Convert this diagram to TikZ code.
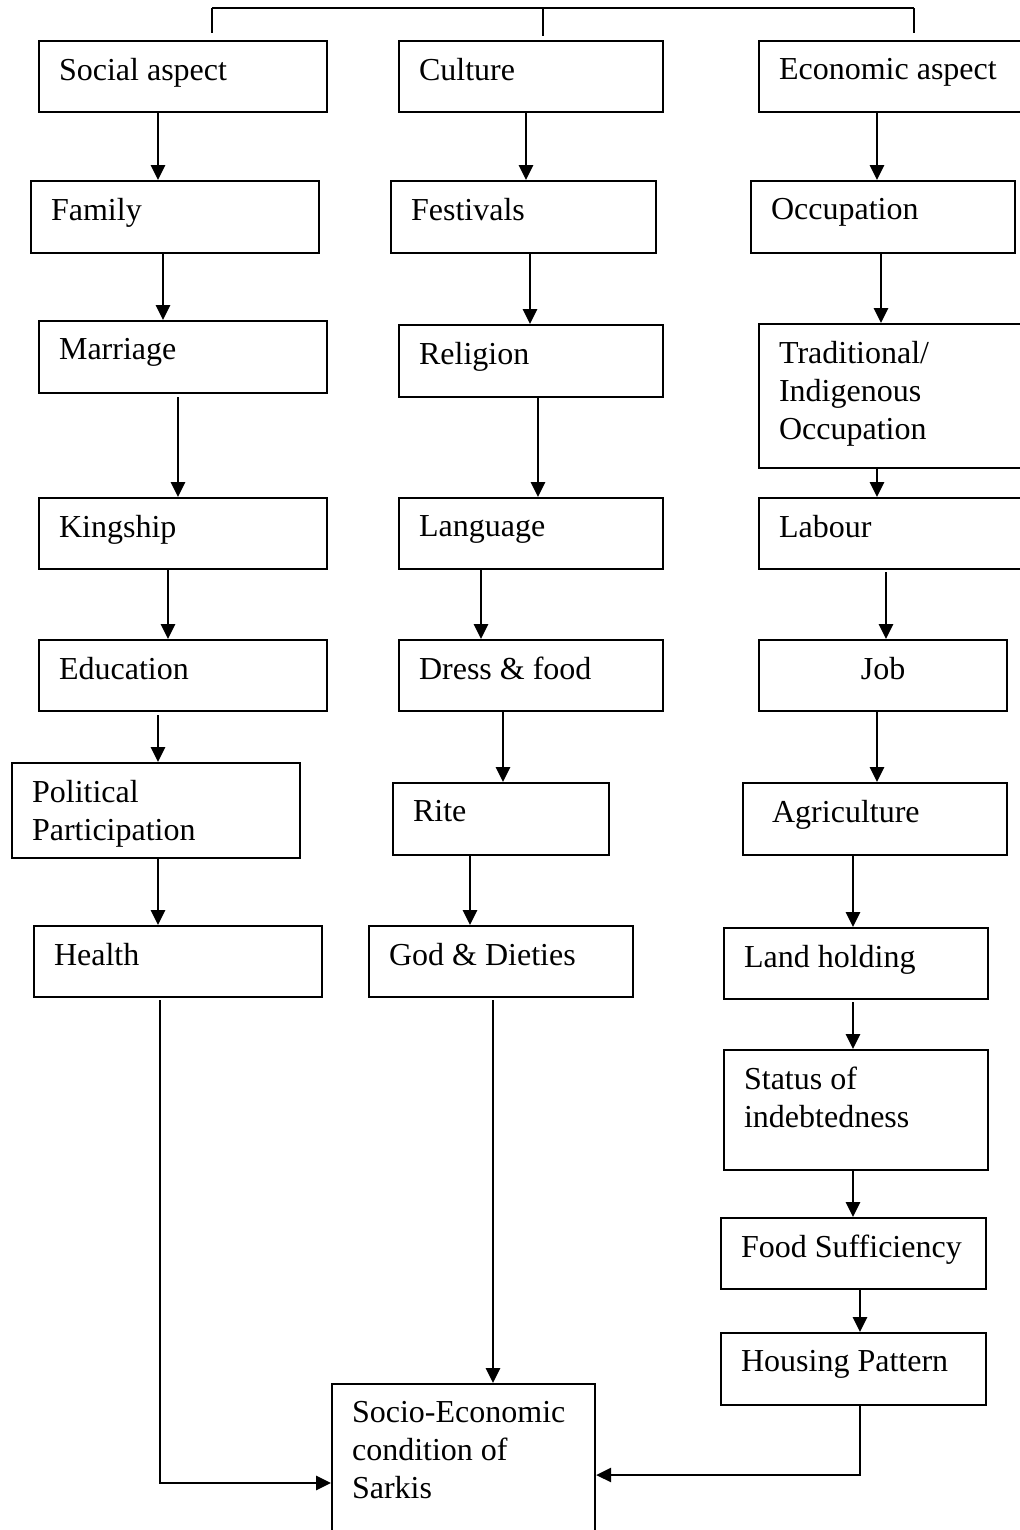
\documentclass[tikz,border=0pt]{standalone}
\usepackage{fontspec}
\setmainfont{Liberation Serif}
\usetikzlibrary{arrows.meta}

\begin{document}
\begin{tikzpicture}[x=0.375pt, y=-0.375pt, line width=0.8pt, >={Triangle[length=5.6pt,width=5.3pt]},
  blk/.style 2 args={draw, anchor=north west, inner sep=0pt, minimum width=#1*0.375pt, minimum height=#2*0.375pt},
  txt/.style={anchor=north west, align=left, inner xsep=7.5pt, inner ysep=6.5pt, font=\fontsize{12}{14.25}\selectfont}]

\useasboundingbox (0,0) rectangle (1019,1530);

% top bracket
\coordinate (tl) at (212,8);
\coordinate (tm) at (543,8);
\coordinate (tr) at (914,8);
\draw (tl) -- (tr);
\draw (tl) -- +(0,25);
\draw (tm) -- +(0,28);
\draw (tr) -- +(0,25);

% social column
\node[blk={288}{71}, label={[txt]north west:Social aspect}] (social) at (38,40) {};
\node[blk={288}{72}, label={[txt]north west:Family}] (family) at (30,180) {};
\node[blk={288}{72}, label={[txt]north west:Marriage}] (marriage) at (38,320) {};
\node[blk={288}{71}, label={[txt]north west:Kingship}] (kingship) at (38,497) {};
\node[blk={288}{71}, label={[txt]north west:Education}] (education) at (38,639) {};
\node[blk={288}{95}, label={[txt]north west:{Political\\Participation}}] (political) at (11,762) {};
\node[blk={288}{71}, label={[txt]north west:Health}] (health) at (33,925) {};

% culture column
\node[blk={264}{71}, label={[txt]north west:Culture}] (culture) at (398,40) {};
\node[blk={265}{72}, label={[txt]north west:Festivals}] (festivals) at (390,180) {};
\node[blk={264}{72}, label={[txt]north west:Religion}] (religion) at (398,324) {};
\node[blk={264}{71}, label={[txt]north west:Language}] (language) at (398,497) {};
\node[blk={264}{71}, label={[txt]north west:Dress \& food}] (dress) at (398,639) {};
\node[blk={216}{72}, label={[txt]north west:Rite}] (rite) at (392,782) {};
\node[blk={264}{71}, label={[txt]north west:God \& Dieties}] (gods) at (368,925) {};

% economic column
\node[blk={280}{71}, label={[txt]north west:Economic aspect}] (economic) at (758,40) {};
\node[blk={264}{72}, label={[txt]north west:Occupation}] (occupation) at (750,180) {};
\node[blk={280}{144}, label={[txt]north west:{Traditional/\\Indigenous\\Occupation}}] (traditional) at (758,323) {};
\node[blk={280}{71}, label={[txt]north west:Labour}] (labour) at (758,497) {};
\node[blk={248}{71}, label={[txt, anchor=north]north:Job}] (job) at (758,639) {};
\node[blk={264}{72}, label={[txt, xshift=3.4pt]north west:Agriculture}] (agriculture) at (742,782) {};
\node[blk={264}{71}, label={[txt]north west:Land holding}] (land) at (723,927) {};
\node[blk={264}{120}, label={[txt]north west:{Status of\\indebtedness}}] (status) at (723,1049) {};
\node[blk={265}{71}, label={[txt]north west:Food Sufficiency}] (food) at (720,1217) {};
\node[blk={265}{72}, label={[txt]north west:Housing Pattern}] (housing) at (720,1332) {};

% result
\node[blk={263}{160}, label={[txt]north west:{Socio-Economic\\condition of\\Sarkis}}] (final) at (331,1383) {};

% arrows
\draw[->] (158,0 |- social.south) -- (158,0 |- family.north);
\draw[->] (163,0 |- family.south) -- (163,0 |- marriage.north);
\draw[->] (178,397) -- (178,0 |- kingship.north);
\draw[->] (168,0 |- kingship.south) -- (168,0 |- education.north);
\draw[->] (158,715) -- (158,0 |- political.north);
\draw[->] (158,0 |- political.south) -- (158,0 |- health.north);

\draw[->] (526,0 |- culture.south) -- (526,0 |- festivals.north);
\draw[->] (530,0 |- festivals.south) -- (530,0 |- religion.north);
\draw[->] (538,0 |- religion.south) -- (538,0 |- language.north);
\draw[->] (481,0 |- language.south) -- (481,0 |- dress.north);
\draw[->] (503,0 |- dress.south) -- (503,0 |- rite.north);
\draw[->] (470,0 |- rite.south) -- (470,0 |- gods.north);

\draw[->] (877,0 |- economic.south) -- (877,0 |- occupation.north);
\draw[->] (881,0 |- occupation.south) -- (881,0 |- traditional.north);
\draw[->] (877,0 |- traditional.south) -- (877,0 |- labour.north);
\draw[->] (886,572) -- (886,0 |- job.north);
\draw[->] (877,0 |- job.south) -- (877,0 |- agriculture.north);
\draw[->] (853,0 |- agriculture.south) -- (853,0 |- land.north);
\draw[->] (853,1002) -- (853,0 |- status.north);
\draw[->] (853,0 |- status.south) -- (853,0 |- food.north);
\draw[->] (860,0 |- food.south) -- (860,0 |- housing.north);

\draw[->] (160,1000) |- (final.west |- 0,1483);
\draw[->] (493,1000) -- (493,0 |- final.north);
\draw[->] (860,0 |- housing.south) |- (final.east |- 0,1475);

\end{tikzpicture}
\end{document}
